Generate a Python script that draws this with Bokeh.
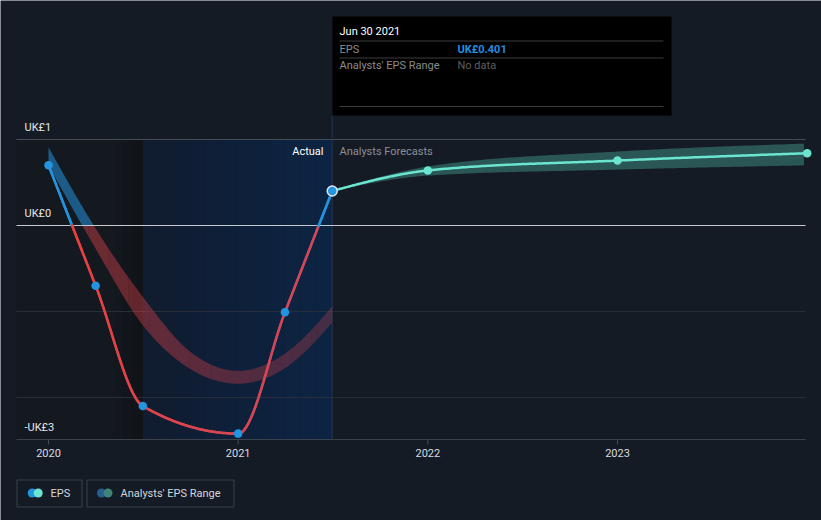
import numpy as np
import pandas as pd
from bokeh.plotting import figure
from bokeh.models import Range1d
from bokeh.core.properties import value
from bokeh.embed import file_html
from bokeh.resources import INLINE

# ---------------- data ----------------
eps_dates = ["2019-12-31", "2020-03-31", "2020-06-30", "2020-12-31", "2021-03-31", "2021-06-30"]
eps_values = [0.70, -0.70, -2.10, -2.42, -1.01, 0.401]

range_dates = ["2019-12-31", "2020-03-31", "2020-06-30", "2020-09-30", "2020-12-31", "2021-03-31", "2021-06-30"]
range_high = [0.91, -0.035, -0.83, -1.47, -1.69, -1.49, -0.94]
range_low = [0.70, -0.27, -1.16, -1.67, -1.84, -1.66, -1.13]

fc_dates = ["2021-06-30", "2021-12-31", "2022-12-31", "2023-12-31"]
fc_values = [0.401, 0.64, 0.755, 0.84]
fc_high = [0.401, 0.686, 0.86, 0.953]
fc_low = [0.401, 0.58, 0.65, 0.70]

x_tick_years = [2020, 2021, 2022, 2023]
x_tick_labels = ["2020", "2021", "2022", "2023"]
grid_values = [1, -1, -2]
y_label_values = [1, 0, -2.488]
y_labels = ["UK£1", "UK£0", "-UK£3"]

tooltip_title = "Jun 30 2021"
tooltip_rows = ["EPS", "Analysts' EPS Range"]
tooltip_vals = ["UK£0.401", "No data"]
legend_labels = ["EPS", "Analysts' EPS Range"]

# ---------------- helpers ----------------
FONT = value("Roboto")
BG = "#151b25"


def dec(d):
    ts = pd.Timestamp(d)
    n = 366 if ts.is_leap_year else 365
    return ts.year + ts.dayofyear / n


def X(px):  # reference-pixel -> data x
    return 2020 + (px - 48) / 189.67


def Y(py):  # reference-pixel -> data y
    return (225 - py) / 86.0


def tangents(x, y):
    x = np.asarray(x, float); y = np.asarray(y, float)
    n = len(x)
    h = np.diff(x); s = np.diff(y) / h
    t = np.zeros(n)
    if n == 2:
        t[:] = s[0]
        return t
    for i in range(1, n - 1):
        p_ = (s[i - 1] * h[i] + s[i] * h[i - 1]) / (h[i - 1] + h[i])
        t[i] = (np.sign(s[i - 1]) + np.sign(s[i])) * min(abs(s[i - 1]), abs(s[i]), 0.5 * abs(p_))
    t[0] = (3 * s[0] - t[1]) / 2
    t[-1] = (3 * s[-1] - t[-2]) / 2
    return t


def smooth(x, y, n=60):
    x = np.asarray(x, float); y = np.asarray(y, float)
    t = tangents(x, y)
    xs, ys = [], []
    for i in range(len(x) - 1):
        u = np.linspace(0, 1, n, endpoint=(i == len(x) - 2))
        h = x[i + 1] - x[i]
        h00 = 2 * u**3 - 3 * u**2 + 1
        h10 = u**3 - 2 * u**2 + u
        h01 = -2 * u**3 + 3 * u**2
        h11 = u**3 - u**2
        ys.append(h00 * y[i] + h10 * h * t[i] + h01 * y[i + 1] + h11 * h * t[i + 1])
        xs.append(x[i] + u * h)
    return np.concatenate(xs), np.concatenate(ys)


def mix(c1, c2, f):
    a = np.array([int(c1[i:i + 2], 16) for i in (1, 3, 5)], float)
    b = np.array([int(c2[i:i + 2], 16) for i in (1, 3, 5)], float)
    c = a + (b - a) * f
    return "#%02x%02x%02x" % tuple(int(round(v)) for v in c)


ex = [dec(d) for d in eps_dates]
rx = [dec(d) for d in range_dates]
fx = [dec(d) for d in fc_dates]

# ---------------- figure ----------------
p = figure(width=821, height=520, output_backend="svg", toolbar_location=None,
           x_range=Range1d(X(0), X(821)), y_range=Range1d(Y(520), Y(0)),
           x_axis_location=None, y_axis_location=None,
           min_border_left=0, min_border_right=0, min_border_top=0, min_border_bottom=0,
           background_fill_color=BG, border_fill_color=BG)
p.grid.visible = False
p.outline_line_color = None

y_bottom = Y(439)
XL, XR = X(16), X(805)

# past (dark) region + darker stripe
p.quad(left=[XL], right=[X(110)], top=[1], bottom=[y_bottom], fill_color="#14181f", line_color=None)
ns = 6
edges = np.linspace(X(110), ex[2], ns + 1)
p.quad(left=edges[:-1], right=edges[1:], top=[1] * ns, bottom=[y_bottom] * ns,
       fill_color=[mix("#14181f", "#101318", i / (ns - 1)) for i in range(ns)], line_color=None)
# "actual" last-year highlight
nb = 12
edges = np.linspace(ex[2], ex[-1], nb + 1)
p.quad(left=edges[:-1], right=edges[1:], top=[1] * nb, bottom=[y_bottom] * nb,
       fill_color=[mix("#101c2f", "#0c2444", i / (nb - 1)) for i in range(nb)], line_color=None)

# grid lines
gcols = ["#464c56" if g == 1 else "#272e39" for g in grid_values]
p.segment(x0=[XL] * len(grid_values), x1=[XR] * len(grid_values), y0=grid_values, y1=grid_values,
          line_color=gcols, line_width=1)
p.segment(x0=[XL], x1=[XR], y0=[y_bottom], y1=[y_bottom], line_color="#3c424c", line_width=1)

# divider between actual and forecast
p.segment(x0=[ex[-1]], y0=[Y(115)], x1=[ex[-1]], y1=[y_bottom], line_color="#26344a", line_width=1)

# x ticks
p.segment(x0=x_tick_years, y0=[y_bottom] * 4, x1=x_tick_years, y1=[Y(444)] * 4,
          line_color="#454b55", line_width=1)
p.text(x=x_tick_years, y=[Y(452)] * 4, text=x_tick_labels, text_font=FONT, text_font_size="11px",
       text_color="#d8dbe0", text_align="center", text_baseline="middle")

# y labels
p.text(x=[X(24)] * 3, y=y_label_values, text=y_labels, y_offset=-12, text_font=FONT,
       text_font_size="11px", text_color="#e4e6ea", text_align="left", text_baseline="middle")

# ---------- analysts' range (past) ----------
bx, bh = smooth(rx, range_high)
_, bl = smooth(rx, range_low)
p.varea(x=bx, y1=np.maximum(bl, 0), y2=np.maximum(bh, 0), fill_color="#2394df", fill_alpha=0.55)
nchunks = 14
idx = np.linspace(0, len(bx) - 1, nchunks + 1).astype(int)
for k in range(nchunks):
    a, b = idx[k], idx[k + 1] + 1
    alpha = 0.46 - 0.18 * k / (nchunks - 1)
    p.varea(x=bx[a:b], y1=np.minimum(bl[a:b], 0), y2=np.minimum(bh[a:b], 0),
            fill_color="#e0434b", fill_alpha=alpha)

# ---------- forecast band ----------
fbx, fbh = smooth(fx, fc_high)
_, fbl = smooth(fx, fc_low)
keep = fbx <= XR
p.varea(x=fbx[keep], y1=fbl[keep], y2=fbh[keep], fill_color="#5ce0c8", fill_alpha=0.3)

# zero line (over the bands)
p.segment(x0=[XL], x1=[XR], y0=[0], y1=[0], line_color="#c5c9cf", line_width=1)

# ---------- EPS actual line ----------
lx, ly = smooth(ex, eps_values, n=80)
x0s, y0s, x1s, y1s, cols = [], [], [], [], []
for i in range(len(lx) - 1):
    xa, ya, xb, yb = lx[i], ly[i], lx[i + 1], ly[i + 1]
    pieces = [(xa, ya, xb, yb)]
    if ya * yb < 0:
        xz = xa + (xb - xa) * (ya / (ya - yb))
        pieces = [(xa, ya, xz, 0.0), (xz, 0.0, xb, yb)]
    for (a1, b1, a2, b2) in pieces:
        mid = (b1 + b2) / 2
        f = min(max(((a1 + a2) / 2 - ex[0]) / (ex[-1] - ex[0]), 0), 1)
        col = "#2394df" if mid >= 0 else mix("#e8413e", "#cc4a5e", f)
        x0s.append(a1); y0s.append(b1); x1s.append(a2); y1s.append(b2); cols.append(col)
p.segment(x0=x0s, y0=y0s, x1=x1s, y1=y1s, line_color=cols, line_width=2.5, line_cap="round")

# ---------- forecast line ----------
flx, fly = smooth(fx, fc_values, n=80)
keep = flx <= XR
p.line(flx[keep], fly[keep], line_color="#6be5cf", line_width=2.5)

# points
p.scatter(ex[:-1], eps_values[:-1], size=8.5, fill_color="#2394df", line_color=None)
p.scatter(fx[1:], fc_values[1:], size=8.5, fill_color="#6be5cf", line_color=None)
p.scatter([ex[-1]], [eps_values[-1]], size=10, fill_color="#2394df", line_color="#dfe7f0", line_width=1.5)

# section labels
p.text(x=[X(323)], y=[Y(151)], text=["Actual"], text_font=FONT, text_font_size="11px",
       text_color="#ffffff", text_align="right", text_baseline="middle")
p.text(x=[X(339)], y=[Y(151)], text=["Analysts Forecasts"], text_font=FONT, text_font_size="11px",
       text_color="#8a8f97", text_align="left", text_baseline="middle")

# ---------- tooltip ----------
p.quad(left=[X(332)], right=[X(671)], top=[Y(16)], bottom=[Y(115)], fill_color="#000000", line_color=None)
p.segment(x0=[X(339)] * 3, x1=[X(663)] * 3, y0=[Y(40.5), Y(57.5), Y(106)], y1=[Y(40.5), Y(57.5), Y(106)],
          line_color="#3d3d3d", line_width=1)
p.text(x=[X(339)], y=[Y(31)], text=[tooltip_title], text_font=FONT, text_font_size="11px",
       text_color="#ffffff", text_align="left", text_baseline="middle")
p.text(x=[X(339)] * 2, y=[Y(48.5), Y(65)], text=tooltip_rows, text_font=FONT, text_font_size="11px",
       text_color="#8c8c8c", text_align="left", text_baseline="middle")
p.text(x=[X(457)], y=[Y(48.5)], text=[tooltip_vals[0]], text_font=FONT, text_font_size="11px",
       text_font_style="bold", text_color="#1f8fe0", text_align="left", text_baseline="middle")
p.text(x=[X(457)], y=[Y(65)], text=[tooltip_vals[1]], text_font=FONT, text_font_size="11px",
       text_color="#5f5f5f", text_align="left", text_baseline="middle")

# ---------- legend ----------
p.quad(left=[X(16.5), X(86.5)], right=[X(81.5), X(233.5)], top=[Y(479.5)] * 2, bottom=[Y(506.5)] * 2,
       fill_color=None, line_color="#3a404a", line_width=1)
p.scatter([X(31.7), X(37.7)], [Y(492.5)] * 2, size=9, fill_color=["#2394df", "#6be5cf"], line_color=None)
p.scatter([X(101), X(107.5)], [Y(492.5)] * 2, size=9, fill_color=["#245f8f", "#41827a"], line_color=None)
p.text(x=[X(50), X(120)], y=[Y(492.5)] * 2, text=legend_labels, text_font=FONT, text_font_size="11px",
       text_color="#d2d6db", text_align="left", text_baseline="middle")

open("out.html", "w").write(file_html(p, INLINE))
